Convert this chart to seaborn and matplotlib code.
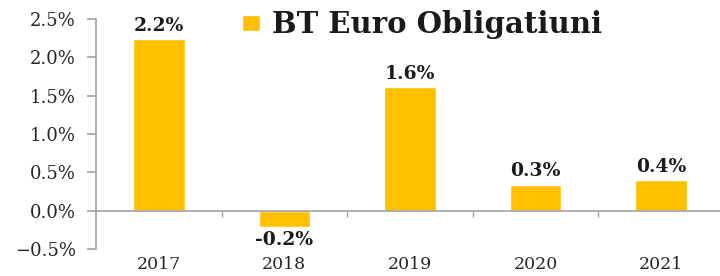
import numpy as np
import pandas as pd
import matplotlib
matplotlib.use("Agg")
import matplotlib.pyplot as plt
import seaborn as sns
from matplotlib.ticker import StrMethodFormatter, FixedLocator

# Donnees
years = ["2017", "2018", "2019", "2020", "2021"]
values = [2.24, -0.21, 1.61, 0.34, 0.40]
series = "BT Euro Obligatiuni"

gold = "#FFC000"
grey = "#A6A6A6"

sns.set_theme(style="white")
plt.rcParams["font.family"] = ["DejaVu Serif", "DejaVu Sans"]

df = pd.DataFrame({"an": years, "randament": values, "serie": series})

fig = plt.figure(figsize=(7.2, 2.76), dpi=100)
ax = fig.add_axes([0.1333, 0.098, 0.872, 0.833])

sns.barplot(data=df, x="an", y="randament", hue="serie", palette=[gold],
            width=0.41, ax=ax, saturation=1)

ax.set_xlim(-0.5, 4.5)
ax.set_ylim(-0.5, 2.5)
ax.set_yticks(np.arange(-0.5, 2.51, 0.5))
ax.yaxis.set_major_formatter(StrMethodFormatter("{x:.1f}%"))
ax.set_xlabel("")
ax.set_ylabel("")

# axe des x sur la ligne zero, etiquettes en bas
for s in ["top", "right"]:
    ax.spines[s].set_visible(False)
ax.spines["left"].set_color(grey)
ax.spines["bottom"].set_color(grey)
ax.spines["bottom"].set_position(("data", 0))
ax.xaxis.set_minor_locator(FixedLocator(np.arange(0.5, 4.6, 1.0)))
ax.tick_params(axis="x", which="major", length=0, pad=33, labelsize=12.5,
               labelcolor="#262626")
ax.tick_params(axis="x", which="minor", length=4, color=grey, direction="out",
               bottom=True)
ax.tick_params(axis="y", length=6.5, color=grey, direction="out", left=True,
               pad=8, labelsize=13, labelcolor="#262626")

for c in ax.containers:
    ax.bar_label(c, fmt="{:.1f}%", padding=3, fontsize=13.5, fontweight="bold",
                 color="#1a1a1a")

sns.move_legend(ax, loc="center left", bbox_to_anchor=(0.19, 0.975),
                frameon=False, title=None, handlelength=0.65, handleheight=0.45,
                handletextpad=0.4,
                prop=dict(family="DejaVu Serif", weight="bold", size=21))
for t in ax.get_legend().get_texts():
    t.set_color("#1a1a1a")

fig.savefig("out.png", dpi=100)
